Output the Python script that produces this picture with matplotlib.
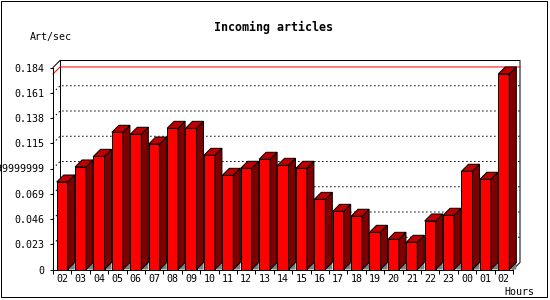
import matplotlib
matplotlib.use('Agg')
import matplotlib.pyplot as plt
from matplotlib.patches import Polygon, Rectangle
from matplotlib.lines import Line2D
import numpy as np

# ---- data ----
hours = ['02', '03', '04', '05', '06', '07', '08', '09', '10', '11', '12', '13',
         '14', '15', '16', '17', '18', '19', '20', '21', '22', '23', '00', '01', '02']
rates = [0.0797, 0.0934, 0.1031, 0.1250, 0.1232, 0.1143, 0.1286, 0.1286, 0.1040,
         0.0858, 0.0922, 0.1004, 0.0949, 0.0922, 0.0639, 0.0530, 0.0485, 0.0339,
         0.0275, 0.0248, 0.0442, 0.0494, 0.0895, 0.0822, 0.1781]
ytick_values = [0, 0.023, 0.046, 0.069, 0.092, 0.115, 0.138, 0.161, 0.184]
ytick_labels = ['0', '0.023', '0.046', '0.069', '0.09199999999999999',
                '0.115', '0.138', '0.161', '0.184']
title = 'Incoming articles'
ylabel = 'Art/sec'
xlabel = 'Hours'

# ---- layout (pixels) ----
W, H = 550, 300
AX_L, AX_B, AX_W, AX_H = 53, 30.5, 460, 202
DEPTH = 7  # pseudo-3D depth in px
PX = 0.72  # 1 px in points
FONT = 'DejaVu Sans Mono'

fig = plt.figure(figsize=(W / 100, H / 100), dpi=100)
fig.patch.set_facecolor('white')
ax = fig.add_axes([AX_L / W, AX_B / H, AX_W / W, AX_H / H])
n = len(hours)
xmin, xmax = -0.5, n - 0.5
ymax = ytick_values[-1]
ax.set_xlim(xmin, xmax)
ax.set_ylim(0, ymax)
ax.set_facecolor('none')

dx = DEPTH / (AX_W / n)
dy = DEPTH / (AX_H / ymax)

for s in ['top', 'right']:
    ax.spines[s].set_visible(False)
for s in ['left', 'bottom']:
    ax.spines[s].set_linewidth(PX)
    ax.spines[s].set_color('black')

ax.set_yticks(ytick_values)
ax.set_yticklabels(ytick_labels, fontfamily=FONT, fontsize=7.2)
ax.tick_params(axis='y', direction='out', length=3 * PX, width=PX, pad=6 * PX)
ax.set_xticks(np.arange(xmin, xmax + 0.01, 1.0))
ax.set_xticklabels([])
ax.tick_params(axis='x', which='major', direction='out', length=4 * PX, width=PX)
ax.set_xticks(np.arange(n), minor=True)
ax.set_xticklabels(hours, minor=True, fontfamily=FONT, fontsize=7.2)
ax.tick_params(axis='x', which='minor', length=0, pad=5 * PX)

# back-wall gridlines (dotted)
dot = (0, (1.5, 2.5))
for v in ytick_values[1:-1]:
    ax.add_line(Line2D([xmin, xmin + dx, xmax + dx], [v, v + dy, v + dy],
                       color='black', lw=PX, ls=dot, zorder=1, clip_on=False))

# max line (red)
m = max(rates)
ax.add_line(Line2D([xmin, xmin + dx, xmax + dx], [m, m + dy, m + dy],
                   color='#ff0000', lw=PX, zorder=1.5, clip_on=False))

# back wall frame
ax.add_line(Line2D([xmin, xmin + dx, xmax + dx, xmax + dx, xmax],
                   [ymax, ymax + dy, ymax + dy, dy, 0],
                   color='black', lw=PX, zorder=1.2, clip_on=False))
ax.add_line(Line2D([xmin + dx, xmin + dx], [ymax + dy, dy],
                   color='black', lw=PX, zorder=1.2, clip_on=False))

# bars
bw = 0.6
x = np.arange(n)
ax.bar(x, rates, width=bw, color='#ff0000', edgecolor='black', linewidth=PX, zorder=3)
for xi, v in zip(x, rates):
    xl, xr = xi - bw / 2, xi + bw / 2
    ax.add_patch(Polygon([(xr, 0), (xr + dx, dy), (xr + dx, 0)], closed=True,
                         facecolor='#808080', edgecolor='none', zorder=2.5, clip_on=False))
    ax.add_patch(Polygon([(xr, 0), (xr, v), (xr + dx, v + dy), (xr + dx, dy)], closed=True,
                         facecolor='#800000', edgecolor='black', lw=PX, zorder=3, clip_on=False))
    ax.add_patch(Polygon([(xl, v), (xr, v), (xr + dx, v + dy), (xl + dx, v + dy)], closed=True,
                         facecolor='#c00000', edgecolor='black', lw=PX, zorder=3, clip_on=False))

# texts
fig.text(273.5 / W, 1 - 27 / H, title, ha='center', va='center',
         fontfamily=FONT, fontweight='bold', fontsize=8.4)
fig.text(30 / W, 1 - 37 / H, ylabel, ha='left', va='center', fontfamily=FONT, fontsize=7.2)
fig.text(504 / W, 1 - 292 / H, xlabel, ha='left', va='center', fontfamily=FONT, fontsize=7.2)

# outer border
fig.add_artist(Rectangle((0.5 / W, 3.5 / H), 546 / W, 296 / H, transform=fig.transFigure,
                         fill=False, edgecolor='black', lw=PX))

fig.savefig('out.png', dpi=100, facecolor='white')
